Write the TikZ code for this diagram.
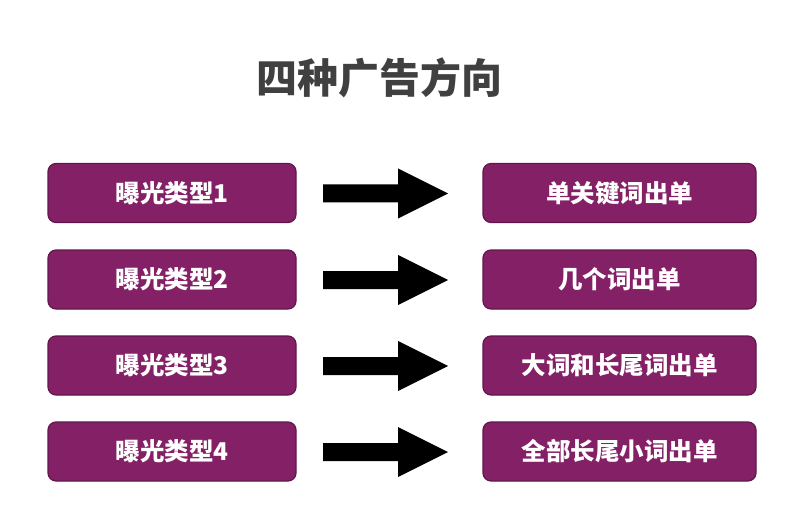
\documentclass[tikz,border=0pt]{standalone}
\usepackage{fontspec}
\newfontfamily\cjk{Noto Sans CJK SC}
\definecolor{boxfill}{RGB}{132,32,102}
\definecolor{boxline}{RGB}{98,22,76}
\definecolor{titlegray}{RGB}{64,64,64}
\begin{document}
\begin{tikzpicture}[x=1pt,y=-1pt,
  pbox/.style={draw=boxline, line width=1.2pt, fill=boxfill, rounded corners=8pt,
    minimum height=59pt, text=white, font=\cjk\bfseries\fontsize{24.5}{27}\selectfont, inner sep=0pt},
  lbox/.style={pbox, minimum width=248pt},
  rbox/.style={pbox, minimum width=273pt}]
\useasboundingbox (0,0) rectangle (793,532);
\node[font=\cjk\bfseries\fontsize{41}{46}\selectfont, text=titlegray] (title) at (379,78) {四种广告方向};
\foreach \i/\y/\r in {1/193/单关键词出单, 2/279.5/几个词出单, 3/365.5/大词和长尾词出单, 4/451.5/全部长尾小词出单}{
  \node[lbox] (l\i) at (172,\y) {曝光类型\i};
  \node[rbox] (r\i) at (619.5,\y) {\r};
  \fill[black] (323,\y-8.5) -- (398,\y-8.5) -- (398,\y-24.5) -- (448,\y+0.5) -- (398,\y+25.5) -- (398,\y+9.5) -- (323,\y+9.5) -- cycle;
}
\end{tikzpicture}
\end{document}
